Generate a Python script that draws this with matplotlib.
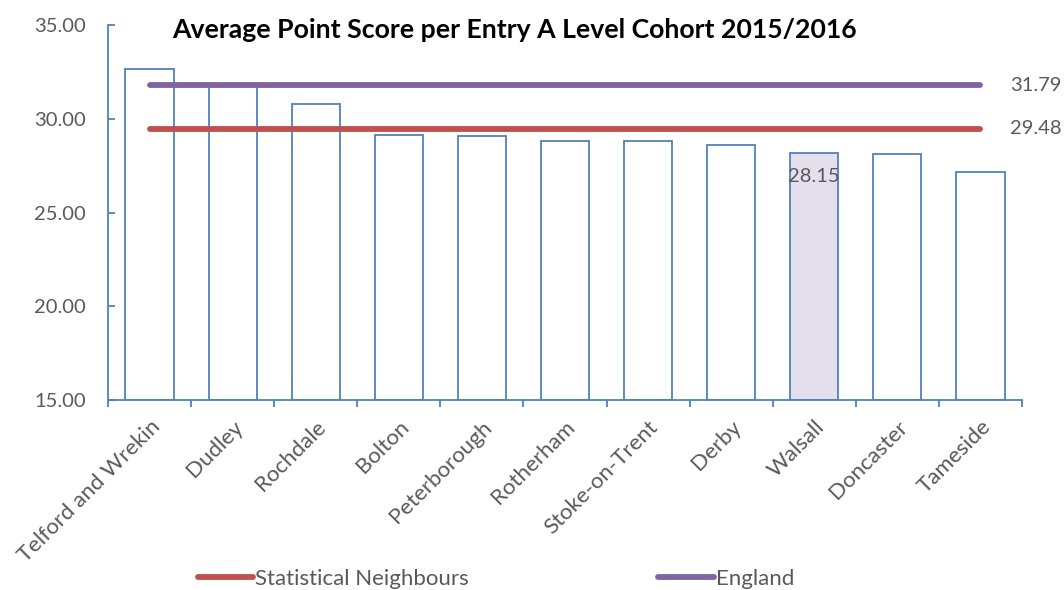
import numpy as np
import matplotlib
matplotlib.use("Agg")
import matplotlib.pyplot as plt
from matplotlib.lines import Line2D

plt.rcParams['font.family'] = ['Lato', 'DejaVu Sans']

areas = ["Telford and Wrekin", "Dudley", "Rochdale", "Bolton", "Peterborough",
         "Rotherham", "Stoke-on-Trent", "Derby", "Walsall", "Doncaster", "Tameside"]
scores = [32.65, 31.75, 30.79, 29.12, 29.08, 28.81, 28.81, 28.60, 28.15, 28.10, 27.14]
stat_neighbours = 29.48
england = 31.79
highlight = "Walsall"

blue = "#4F81BD"
grey = "#595959"
fs = 16
fs_num = 14.5

fig = plt.figure(figsize=(10.64, 5.9), dpi=100)
ax = fig.add_axes([108 / 1064, 190 / 590, 914 / 1064, 375 / 590])

x = np.arange(len(areas))
fills = ["#E4DFEC" if a == highlight else "white" for a in areas]
ax.bar(x, [s - 15 for s in scores], bottom=15, width=0.58, color=fills,
       edgecolor=blue, linewidth=1.3, zorder=2)

ax.plot([x[0], x[-1]], [england] * 2, color="#8064A2", lw=4.2,
        solid_capstyle="round", zorder=3)
ax.plot([x[0], x[-1]], [stat_neighbours] * 2, color="#C0504D", lw=4.2,
        solid_capstyle="round", zorder=3)

ax.text(x[-1] + 0.36, england, f"{england:.2f}", fontsize=fs_num, color=grey,
        va="center", ha="left", clip_on=False)
ax.text(x[-1] + 0.36, stat_neighbours, f"{stat_neighbours:.2f}", fontsize=fs_num,
        color=grey, va="center", ha="left", clip_on=False)
i = areas.index(highlight)
ax.text(x[i], scores[i] - 1.25, f"{scores[i]:.2f}", fontsize=fs_num, color=grey,
        ha="center", va="center", zorder=4)

ax.set_xlim(-0.5, len(areas) - 0.5)
ax.set_ylim(15, 35)
ax.set_yticks([15, 20, 25, 30, 35])
ax.set_yticklabels([f"{v:.2f}" for v in [15, 20, 25, 30, 35]])
ax.set_xticks(x)
ax.set_xticklabels(areas, rotation=45, ha="right", rotation_mode="anchor")
ax.set_xticks(np.arange(-0.5, len(areas)), minor=True)
ax.tick_params(axis="x", which="major", length=0, pad=12, labelsize=fs, labelcolor=grey)
ax.tick_params(axis="x", which="minor", length=5, color=blue, width=1.3, direction="out")
ax.tick_params(axis="y", length=5, color=blue, width=1.3, direction="in",
               labelsize=fs_num, labelcolor=grey, pad=16)

for s in ["top", "right"]:
    ax.spines[s].set_visible(False)
for s in ["left", "bottom"]:
    ax.spines[s].set_color(blue)
    ax.spines[s].set_linewidth(1.3)

fig.text(514 / 1064, 1 - 30 / 590, "Average Point Score per Entry A Level Cohort 2015/2016",
         ha="center", va="center", fontsize=19.2, fontweight="bold", color="black")

handles = [Line2D([], [], color="#C0504D", lw=4.2, solid_capstyle="round"),
           Line2D([], [], color="#8064A2", lw=4.2, solid_capstyle="round")]
fig.legend(handles, ["Statistical Neighbours", "England"], loc="center",
           bbox_to_anchor=(496 / 1064, 1 - 579 / 590), ncol=2, frameon=False,
           fontsize=fs, labelcolor=grey, handlelength=2.5, handletextpad=0.1,
           columnspacing=8.5)

fig.savefig("out.png", dpi=100)
